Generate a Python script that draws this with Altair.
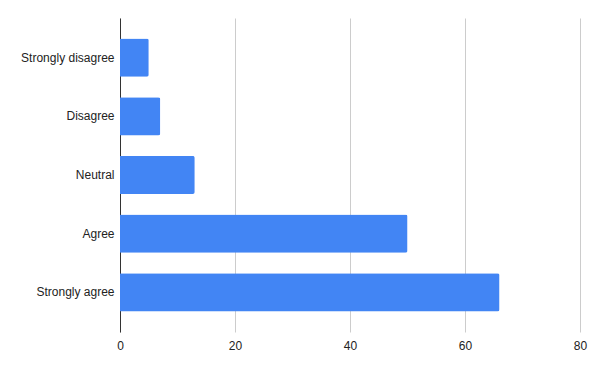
import altair as alt
import pandas as pd

categories = ["Strongly disagree", "Disagree", "Neutral", "Agree", "Strongly agree"]
values = [5, 7, 13, 50, 66]

df = pd.DataFrame({"response": categories, "count": values})

chart = alt.Chart(df).mark_bar(
    color="#4285F4", cornerRadiusTopRight=2, cornerRadiusBottomRight=2
).encode(
    x=alt.X("count:Q", scale=alt.Scale(domain=[0, 80], nice=False),
            axis=alt.Axis(values=[0, 20, 40, 60, 80], title=None, domain=False, ticks=False,
                          grid=True, gridColor="#cccccc", labelPadding=8, labelFlush=False)),
    y=alt.Y("response:N", sort=categories,
            scale=alt.Scale(paddingInner=0.35, paddingOuter=0.35),
            axis=alt.Axis(title=None, ticks=False, domain=True, domainColor="#333333",
                          labelPadding=6, grid=False)),
).properties(
    width=460, height=314,
    autosize=alt.AutoSizeParams(type="none"),
    padding={"left": 120, "top": 18, "right": 20, "bottom": 39},
).configure_view(stroke=None).configure_axis(
    labelFont="Liberation Sans", labelFontSize=12, labelColor="#222222"
)

chart.save("out.html", embed_options={"renderer": "svg", "actions": False})
